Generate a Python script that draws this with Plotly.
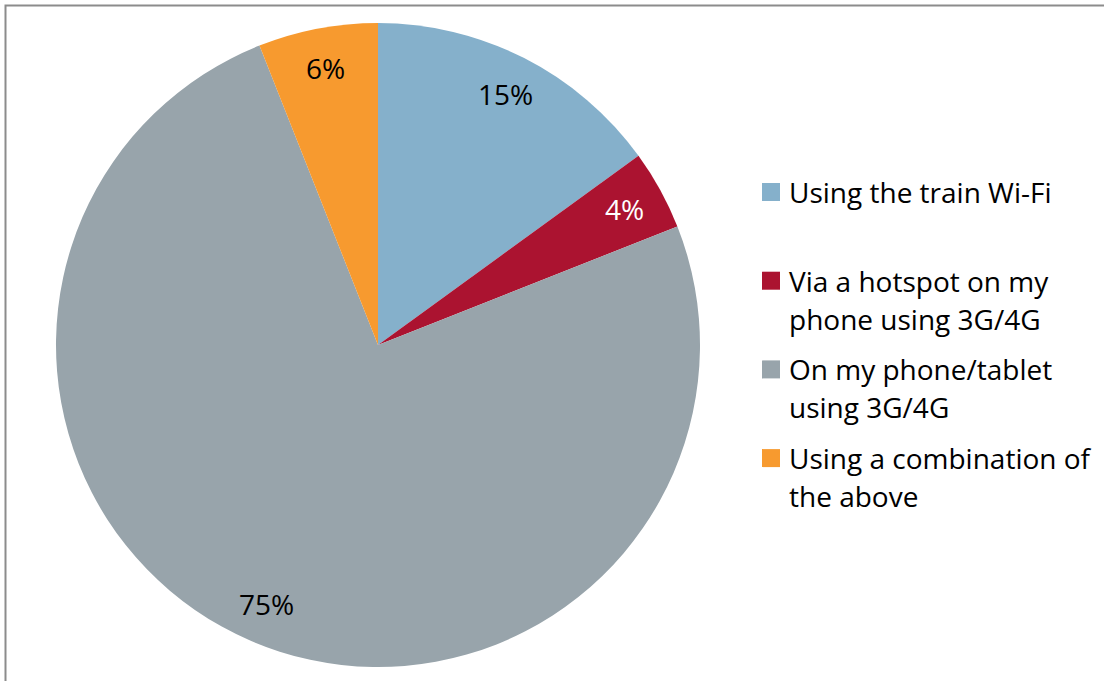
import math
import plotly.graph_objects as go

# Survey: how passengers connect to the internet on the train
categories = [
    "Using the train Wi-Fi",
    "Via a hotspot on my phone using 3G/4G",
    "On my phone/tablet using 3G/4G",
    "Using a combination of the above",
]
legend_lines = [
    ["Using the train Wi-Fi"],
    ["Via a hotspot on my", "phone using 3G/4G"],
    ["On my phone/tablet", "using 3G/4G"],
    ["Using a combination of", "the above"],
]
shares = [15, 4, 75, 6]
colors = ["#85B0CB", "#AB1330", "#98A4AB", "#F79A2F"]
label_colors = ["#000000", "#FFFFFF", "#000000", "#000000"]

W, H = 1104, 681
FONT = "Open Sans"

# Pie placement in pixels
cx, cy, R = 378, 345, 322

fig = go.Figure(
    go.Pie(
        labels=categories,
        values=shares,
        marker=dict(colors=colors, line=dict(width=0)),
        sort=False,
        direction="clockwise",
        rotation=0,
        textinfo="none",
        hoverinfo="label+percent",
        showlegend=False,
        domain=dict(x=[(cx - R) / W, (cx + R) / W], y=[1 - (cy + R) / H, 1 - (cy - R) / H]),
    )
)

annotations = []
shapes = []

# Percentage labels along each slice's mid-angle
total = sum(shares)
cum = 0
for v, col in zip(shares, label_colors):
    mid = (cum + v / 2) / total * 2 * math.pi
    cum += v
    r = 0.875 * R
    px = cx + r * math.sin(mid)
    py = cy - r * math.cos(mid)
    annotations.append(dict(
        x=px / W, y=1 - py / H, xref="paper", yref="paper",
        text=f"{round(v / total * 100)}%", showarrow=False,
        font=dict(family=FONT, size=28, color=col),
        xanchor="center", yanchor="middle",
    ))

# Legend: colour square plus wrapped text
item_y0, item_step, line_step = 192, 88.7, 38
sq = 18
text_x, sq_x = 787, 762
for i, (lines, col) in enumerate(zip(legend_lines, colors)):
    y = item_y0 + i * item_step
    shapes.append(dict(
        type="rect", xref="paper", yref="paper",
        x0=sq_x / W, x1=(sq_x + sq) / W,
        y0=1 - (y + sq / 2) / H, y1=1 - (y - sq / 2) / H,
        fillcolor=col, line=dict(width=0),
    ))
    for k, line in enumerate(lines):
        ly = y + k * line_step
        annotations.append(dict(
            x=text_x / W, y=1 - ly / H, xref="paper", yref="paper",
            text=line, showarrow=False,
            font=dict(family=FONT, size=28, color="#000000"),
            xanchor="left", yanchor="middle",
        ))

# Chart frame
shapes.append(dict(
    type="rect", xref="paper", yref="paper",
    x0=5.5 / W, x1=1.05, y0=-0.05, y1=1 - 5.5 / H,
    line=dict(color="#8C8C8C", width=2), fillcolor="rgba(0,0,0,0)",
))

fig.update_layout(
    width=W, height=H,
    margin=dict(l=0, r=0, t=0, b=0),
    paper_bgcolor="white", plot_bgcolor="white",
    annotations=annotations, shapes=shapes,
)

fig.write_html("out.html")
